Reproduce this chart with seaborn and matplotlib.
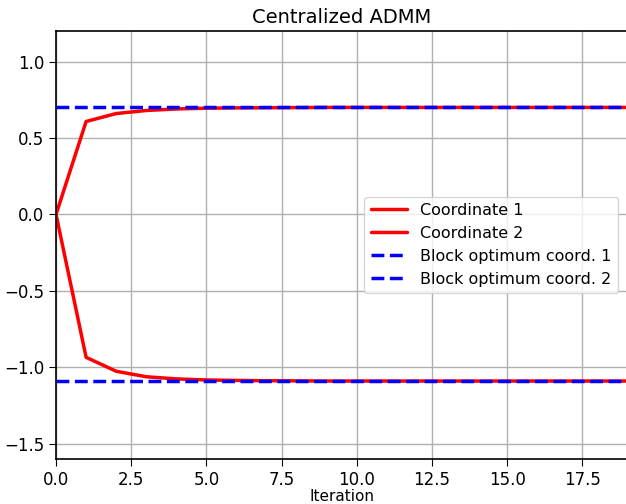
import numpy as np
import pandas as pd
import seaborn as sns
import matplotlib
matplotlib.use("Agg")
import matplotlib.pyplot as plt

# iterations and the two coordinate trajectories
iterations = list(range(20))
coord_1 = [0.0, 0.608, 0.66, 0.68, 0.69, 0.695, 0.697, 0.698, 0.699, 0.7,
           0.7, 0.7, 0.7, 0.7, 0.7, 0.7, 0.7, 0.7, 0.7, 0.7]
coord_2 = [0.0, -0.935, -1.026, -1.062, -1.076, -1.083, -1.086, -1.088, -1.089, -1.09,
           -1.09, -1.09, -1.09, -1.09, -1.09, -1.09, -1.09, -1.09, -1.09, -1.09]
optimum_1 = 0.7
optimum_2 = -1.09

def plot_admm():
    sns.set_style("white")
    plt.rcParams['font.family'] = ['DejaVu Sans']
    for k in ['text.color', 'axes.labelcolor', 'xtick.color', 'ytick.color']:
        plt.rcParams[k] = 'black'
    fig = plt.figure(figsize=(6.26, 5.04), dpi=100)
    ax = fig.add_axes([0.0895, 0.0893, 0.913, 0.8492])

    df = pd.DataFrame({'Iteration': iterations, 'c1': coord_1, 'c2': coord_2})
    sns.lineplot(data=df, x='Iteration', y='c1', color='red', linewidth=2.5,
                 label='Coordinate 1', ax=ax)
    sns.lineplot(data=df, x='Iteration', y='c2', color='red', linewidth=2.5,
                 label='Coordinate 2', ax=ax)
    ax.axhline(optimum_1, color='blue', linestyle='--', linewidth=2.5,
               label='Block optimum coord. 1')
    ax.axhline(optimum_2, color='blue', linestyle='--', linewidth=2.5,
               label='Block optimum coord. 2')

    ax.set_xlim(0, 19)
    ax.set_ylim(-1.6, 1.2)
    ax.set_xticks(np.arange(0, 19, 2.5))
    ax.set_yticks([-1.5, -1.0, -0.5, 0.0, 0.5, 1.0])
    ax.grid(True, color='#b0b0b0', linewidth=1)
    ax.tick_params(axis='both', labelsize=12, direction='out', length=5,
                   bottom=True, left=True, color='black')
    for s in ax.spines.values():
        s.set_color('black')
        s.set_linewidth(1.2)
    ax.set_xlabel('Iteration', fontsize=11, labelpad=0)
    ax.set_ylabel('')
    ax.set_title('Centralized ADMM', fontsize=14)
    leg = ax.legend(loc='center right', fontsize=11.5, frameon=True,
                    handlelength=2.3, borderaxespad=0.6)
    leg.get_frame().set_edgecolor('#cccccc')
    fig.savefig('out.png', dpi=100)

plot_admm()
